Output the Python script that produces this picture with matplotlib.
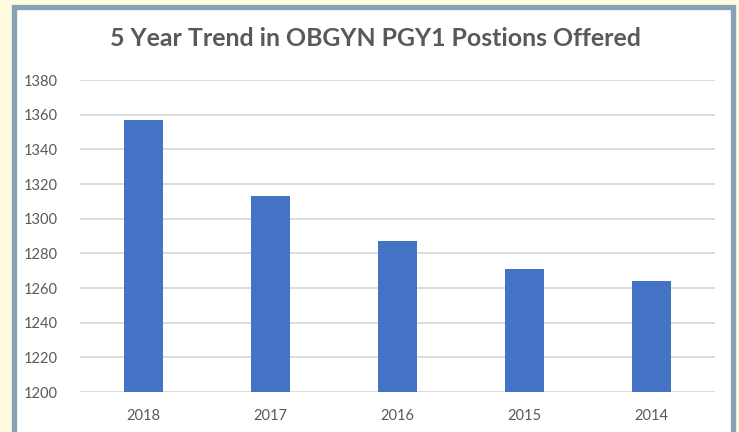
import matplotlib.pyplot as plt
from matplotlib.patches import Rectangle

years = ['2018', '2017', '2016', '2015', '2014']
positions = [1357, 1313, 1287, 1271, 1264]
y_ticks = [1200, 1220, 1240, 1260, 1280, 1300, 1320, 1340, 1360, 1380]

W, H = 739, 432
plt.rcParams['font.family'] = ['Lato', 'DejaVu Sans']

fig = plt.figure(figsize=(W / 100, H / 100), dpi=100)
fig.patch.set_facecolor('#fefbe0')

# white card with the blue-grey frame (runs off the bottom edge)
frame = Rectangle((13.5 / W, -20 / H), 719 / W, (H - 6.5 + 20) / H,
                  transform=fig.transFigure, facecolor='white',
                  edgecolor='#86a2b4', linewidth=3.8, zorder=0)
fig.patches.append(frame)

ax = fig.add_axes([80 / W, 40 / H, 635 / W, 312 / H])
ax.set_zorder(5)
ax.set_facecolor('white')
ax.bar(years, positions, width=0.31, color='#4472c4', zorder=3)

ax.set_ylim(1200, 1380)
ax.set_yticks(y_ticks)
ax.set_xlim(-0.5, len(years) - 0.5)
ax.grid(axis='y', color='#d9d9d9', linewidth=1.3, zorder=0)
for s in ax.spines.values():
    s.set_visible(False)
ax.tick_params(length=0, labelsize=10.5, colors='#595959')
ax.tick_params(axis='y', pad=16)
ax.tick_params(axis='x', pad=12)

fig.text(375 / W, 1 - 39 / H, '5 Year Trend in OBGYN PGY1 Postions Offered',
         ha='center', va='center', fontsize=17.9, fontweight='bold',
         color='#595959', zorder=6)

fig.savefig('out.png', dpi=100, facecolor=fig.get_facecolor())
